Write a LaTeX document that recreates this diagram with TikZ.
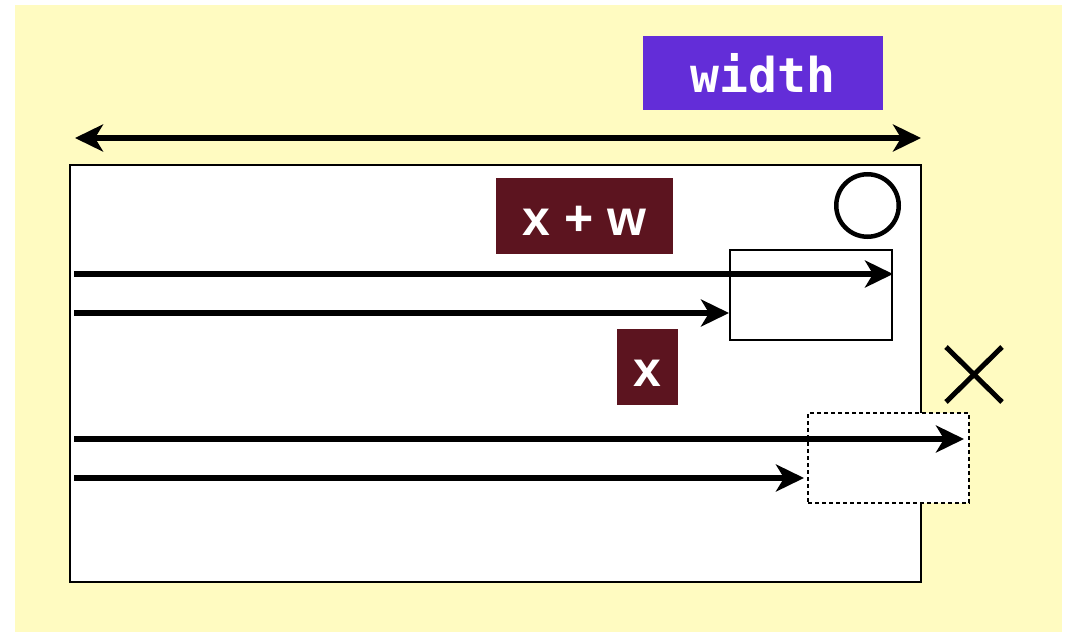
\documentclass[tikz,border=0pt]{standalone}
\usepackage{fontspec}
\setmainfont{Liberation Sans}
\setmonofont{DejaVu Sans Mono}
\usetikzlibrary{arrows.meta}
\definecolor{bgyellow}{HTML}{FFFBC1}
\definecolor{labpurple}{HTML}{632DD8}
\definecolor{labred}{HTML}{5C141F}
\tikzset{
  labelbox/.style={inner sep=0pt, text=white, text height=38pt, text depth=0pt, font=\fontsize{50}{50}\selectfont\bfseries},
  thinbox/.style={draw=black, line width=2pt, inner sep=0pt},
  bigarrow/.style={line width=6pt, -{Stealth[length=28pt,width=27pt,inset=8pt]}},
}
\begin{document}
\begin{tikzpicture}[x=1pt,y=-1pt]
\useasboundingbox (0,0) rectangle (1066,632);
\fill[bgyellow] (15,5) rectangle (1062,632);
% main frame
\node[thinbox, fill=white, minimum width=851pt, minimum height=417pt] (frame) at (495.5,373.5) {};
% width label and double arrow
\node[labelbox, fill=labpurple, minimum width=240pt, minimum height=74pt, font=\fontsize{48}{48}\selectfont\ttfamily\bfseries] (wlab) at (763,73) {width};
\coordinate (wl) at (75,138);
\coordinate (wr) at (921,138);
\draw[line width=6pt, {Stealth[length=28pt,width=27pt,inset=8pt]}-{Stealth[length=28pt,width=27pt,inset=8pt]}] (wl) -- (wr);
% labels inside
\node[labelbox, fill=labred, minimum width=177pt, minimum height=76pt] (xw) at (584.5,216) {x + w};
\node[labelbox, fill=labred, minimum width=61pt, minimum height=76pt] (xl) at (647.5,367) {x};
% circle
\node[draw=black, line width=4.5pt, circle, minimum size=62.5pt, inner sep=0pt] (circ) at (867.5,205.5) {};
% solid box
\node[thinbox, minimum width=162pt, minimum height=90pt] (sbox) at (811,295) {};
% dashed box
\node[draw=black, line width=2pt, dash pattern=on 4pt off 3pt, inner sep=0pt, fill=white, minimum width=161pt, minimum height=90pt] (dbox) at (888.5,458) {};
% cross
\coordinate (c1) at (946,347);
\coordinate (c2) at (1002,402);
\coordinate (c3) at (1002,347);
\coordinate (c4) at (946,402);
\draw[line width=5pt] (c1) -- (c2);
\draw[line width=5pt] (c3) -- (c4);
% arrows
\coordinate (a1) at (74,274);
\coordinate (a2) at (74,313);
\coordinate (a3) at (74,439);
\coordinate (a4) at (74,478);
\draw[bigarrow] (a1) -- (sbox.east |- a1);
\draw[bigarrow] (a2) -- (sbox.west |- a2);
\draw[bigarrow] (a3) -- ([xshift=-6pt]dbox.east |- a3);
\draw[bigarrow] (a4) -- ([xshift=-3pt]dbox.west |- a4);
\end{tikzpicture}
\end{document}
